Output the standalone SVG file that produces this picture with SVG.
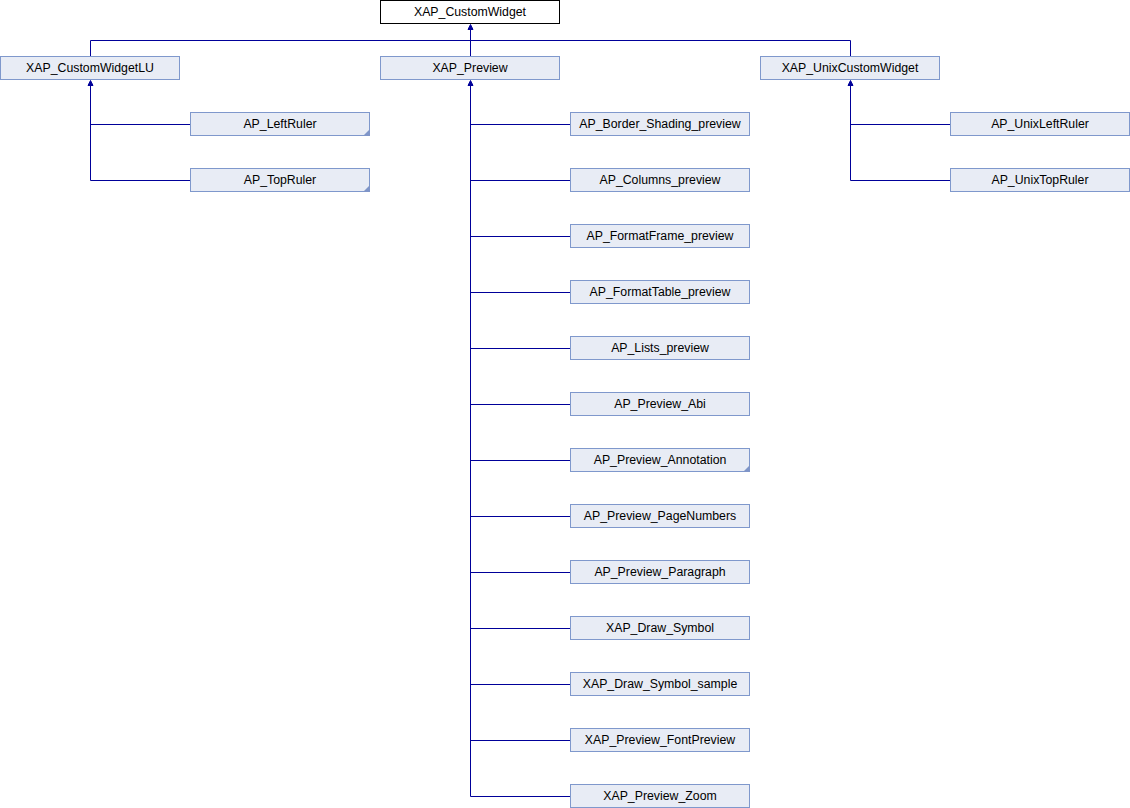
<svg xmlns="http://www.w3.org/2000/svg" width="1130" height="808" viewBox="0 0 1130 808">
<style>
.n rect{fill:#e8ecf5;stroke:#7f98cc;stroke-width:1}
.root rect{fill:#ffffff;stroke:#000000;stroke-width:1}
text{font-family:"Liberation Sans",Arial,sans-serif;font-size:12.3px;fill:#000;text-anchor:middle}
.e{fill:none;stroke:#000099;stroke-width:1}
.a{fill:#000099;stroke:#000099;stroke-width:1}
.f{fill:#7f95c8}
</style>
<rect width="1130" height="808" fill="#ffffff"/>
<g id="connectors">
<path class="e" d="M90.5,56.5V40.5H850.5V56.5"/>
<path class="e" d="M470.5,56.5V29"/>
<path class="a" d="M470.5,24.5L473,29.5H468Z"/>
<path class="e" d="M90.5,85V180.5H190.5M90.5,124.5H190.5"/>
<path class="a" d="M90.5,80.5L93,85.5H88Z"/>
<path class="e" d="M850.5,85V180.5H950.5M850.5,124.5H950.5"/>
<path class="a" d="M850.5,80.5L853,85.5H848Z"/>
<path class="e" d="M470.5,85V796.5H570.5M470.5,124.5H570.5M470.5,180.5H570.5M470.5,236.5H570.5M470.5,292.5H570.5M470.5,348.5H570.5M470.5,404.5H570.5M470.5,460.5H570.5M470.5,516.5H570.5M470.5,572.5H570.5M470.5,628.5H570.5M470.5,684.5H570.5M470.5,740.5H570.5"/>
<path class="a" d="M470.5,80.5L473,85.5H468Z"/>
</g>
<g id="XAP_CustomWidget" class="root"><rect x="380.5" y="0.5" width="179" height="23"/><text x="470" y="15.5">XAP_CustomWidget</text></g>
<g id="XAP_CustomWidgetLU" class="n"><rect x="0.5" y="56.5" width="179" height="23"/><text x="90" y="71.5">XAP_CustomWidgetLU</text></g>
<g id="XAP_Preview" class="n"><rect x="380.5" y="56.5" width="179" height="23"/><text x="470" y="71.5">XAP_Preview</text></g>
<g id="XAP_UnixCustomWidget" class="n"><rect x="760.5" y="56.5" width="179" height="23"/><text x="850" y="71.5">XAP_UnixCustomWidget</text></g>
<g id="AP_LeftRuler" class="n"><rect x="190.5" y="112.5" width="179" height="23"/><path class="f" d="M370,129L370,136L363,136Z"/><text x="280" y="127.5">AP_LeftRuler</text></g>
<g id="AP_TopRuler" class="n"><rect x="190.5" y="168.5" width="179" height="23"/><path class="f" d="M370,185L370,192L363,192Z"/><text x="280" y="183.5">AP_TopRuler</text></g>
<g id="AP_UnixLeftRuler" class="n"><rect x="950.5" y="112.5" width="179" height="23"/><text x="1040" y="127.5">AP_UnixLeftRuler</text></g>
<g id="AP_UnixTopRuler" class="n"><rect x="950.5" y="168.5" width="179" height="23"/><text x="1040" y="183.5">AP_UnixTopRuler</text></g>
<g id="AP_Border_Shading_preview" class="n"><rect x="570.5" y="112.5" width="179" height="23"/><text x="660" y="127.5">AP_Border_Shading_preview</text></g>
<g id="AP_Columns_preview" class="n"><rect x="570.5" y="168.5" width="179" height="23"/><text x="660" y="183.5">AP_Columns_preview</text></g>
<g id="AP_FormatFrame_preview" class="n"><rect x="570.5" y="224.5" width="179" height="23"/><text x="660" y="239.5">AP_FormatFrame_preview</text></g>
<g id="AP_FormatTable_preview" class="n"><rect x="570.5" y="280.5" width="179" height="23"/><text x="660" y="295.5">AP_FormatTable_preview</text></g>
<g id="AP_Lists_preview" class="n"><rect x="570.5" y="336.5" width="179" height="23"/><text x="660" y="351.5">AP_Lists_preview</text></g>
<g id="AP_Preview_Abi" class="n"><rect x="570.5" y="392.5" width="179" height="23"/><text x="660" y="407.5">AP_Preview_Abi</text></g>
<g id="AP_Preview_Annotation" class="n"><rect x="570.5" y="448.5" width="179" height="23"/><path class="f" d="M750,465L750,472L743,472Z"/><text x="660" y="463.5">AP_Preview_Annotation</text></g>
<g id="AP_Preview_PageNumbers" class="n"><rect x="570.5" y="504.5" width="179" height="23"/><text x="660" y="519.5">AP_Preview_PageNumbers</text></g>
<g id="AP_Preview_Paragraph" class="n"><rect x="570.5" y="560.5" width="179" height="23"/><text x="660" y="575.5">AP_Preview_Paragraph</text></g>
<g id="XAP_Draw_Symbol" class="n"><rect x="570.5" y="616.5" width="179" height="23"/><text x="660" y="631.5">XAP_Draw_Symbol</text></g>
<g id="XAP_Draw_Symbol_sample" class="n"><rect x="570.5" y="672.5" width="179" height="23"/><text x="660" y="687.5">XAP_Draw_Symbol_sample</text></g>
<g id="XAP_Preview_FontPreview" class="n"><rect x="570.5" y="728.5" width="179" height="23"/><text x="660" y="743.5">XAP_Preview_FontPreview</text></g>
<g id="XAP_Preview_Zoom" class="n"><rect x="570.5" y="784.5" width="179" height="23"/><text x="660" y="799.5">XAP_Preview_Zoom</text></g>
</svg>
